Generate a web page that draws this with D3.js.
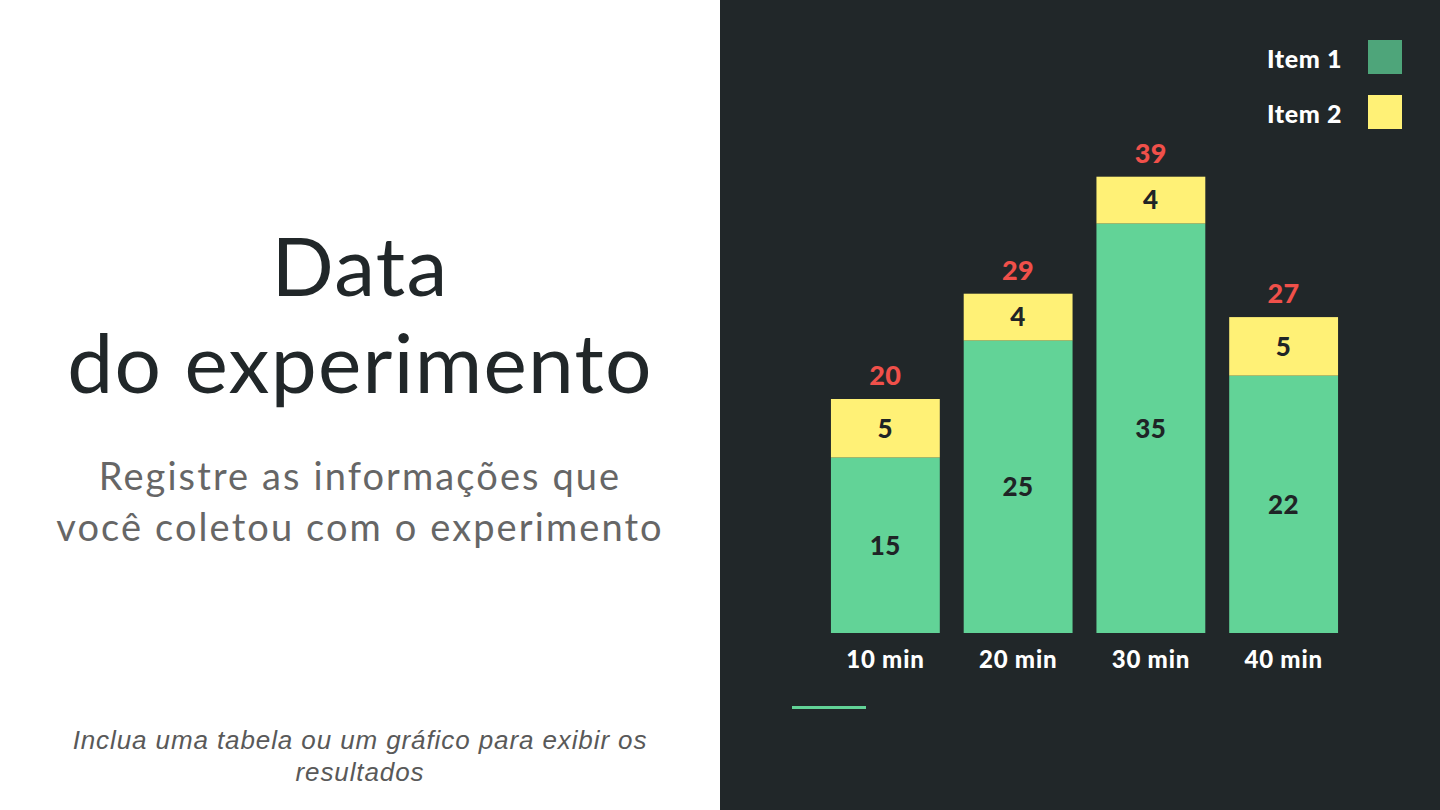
<!DOCTYPE html>
<html>
<head>
<meta charset="utf-8">
<script src="https://cdn.jsdelivr.net/npm/d3@7"></script>
<style>
  html, body { margin: 0; padding: 0; background: #fff; }
  svg { display: block; }
</style>
</head>
<body>
<script>
// Chart data
const categories = ["10 min", "20 min", "30 min", "40 min"];
const item1 = [15, 25, 35, 22];
const item2 = [5, 4, 4, 5];
const totals = [20, 29, 39, 27];
const seriesNames = ["Item 1", "Item 2"];

const width = 1440, height = 810;
const font = "Lato, 'Open Sans', sans-serif";

const svg = d3.select("body").append("svg")
    .attr("width", width)
    .attr("height", height)
    .style("font-family", font);

// Background panels
svg.append("rect").attr("x", 0).attr("y", 0).attr("width", 720).attr("height", height).attr("fill", "#ffffff");
svg.append("rect").attr("x", 720).attr("y", 0).attr("width", 720).attr("height", height).attr("fill", "#212729");

// Left side text
const left = svg.append("g").attr("text-anchor", "middle");
left.selectAll("text.title")
    .data(["Data", "do experimento"])
    .join("text")
    .attr("class", "title")
    .attr("x", 360)
    .attr("y", (d, i) => 296 + i * 97)
    .style("font-size", "82px")
    .style("letter-spacing", "1.3px")
    .style("fill", "#212729")
    .text(d => d);
left.selectAll("text.sub")
    .data(["Registre as informações que", "você coletou com o experimento"])
    .join("text")
    .attr("class", "sub")
    .attr("x", 360)
    .attr("y", (d, i) => 490 + i * 51)
    .style("font-size", "38px")
    .style("letter-spacing", "2.1px")
    .style("fill", "#666666")
    .text(d => d);
left.selectAll("text.note")
    .data(["Inclua uma tabela ou um gráfico para exibir os", "resultados"])
    .join("text")
    .attr("class", "note")
    .attr("x", 360)
    .attr("y", (d, i) => 749 + i * 32)
    .style("font-family", "'Liberation Sans', Arial, sans-serif")
    .style("font-style", "italic")
    .style("font-size", "26px")
    .style("letter-spacing", "0.9px")
    .style("fill", "#595959")
    .text(d => d);

// Scales
const x = d3.scaleBand()
    .domain(categories)
    .range([819, 1350])
    .paddingInner(0.18)
    .paddingOuter(0.09);

const y = d3.scaleLinear()
    .domain([0, 40])
    .range([633, 165]);

const color = d3.scaleOrdinal().domain(seriesNames).range(["#62d397", "#fff176"]);

const rows = categories.map((c, i) => ({ cat: c, "Item 1": item1[i], "Item 2": item2[i], total: totals[i] }));
const stacked = d3.stack().keys(seriesNames)(rows);

const chart = svg.append("g");

chart.selectAll("g.layer")
    .data(stacked)
    .join("g")
    .attr("class", "layer")
    .attr("fill", d => color(d.key))
    .selectAll("rect")
    .data(d => d)
    .join("rect")
    .attr("x", d => x(d.data.cat))
    .attr("y", d => y(d[1]))
    .attr("width", x.bandwidth())
    .attr("height", d => y(d[0]) - y(d[1]));

// Segment values
chart.selectAll("g.vals")
    .data(stacked)
    .join("g")
    .attr("class", "vals")
    .selectAll("text")
    .data(d => d.map(v => ({ v, key: d.key })))
    .join("text")
    .attr("x", d => x(d.v.data.cat) + x.bandwidth() / 2)
    .attr("y", d => (y(d.v[0]) + y(d.v[1])) / 2)
    .attr("dy", "0.36em")
    .attr("text-anchor", "middle")
    .style("font-size", "26px")
    .style("font-weight", "900")
    .style("letter-spacing", "0.5px")
    .style("fill", "#1f2426")
    .text(d => d.v.data[d.key]);

// Totals
chart.selectAll("text.total")
    .data(rows)
    .join("text")
    .attr("class", "total")
    .attr("x", d => x(d.cat) + x.bandwidth() / 2)
    .attr("y", d => y(d.total) - 14)
    .attr("text-anchor", "middle")
    .style("font-size", "27px")
    .style("font-weight", "900")
    .style("letter-spacing", "0.5px")
    .style("fill", "#f0504a")
    .text(d => d.total);

// Category axis labels
const xAxis = d3.axisBottom(x).tickSize(0).tickPadding(18);
const axisG = chart.append("g")
    .attr("transform", `translate(0,${y(0)})`)
    .call(xAxis);
axisG.select(".domain").remove();
axisG.selectAll("text")
    .style("font-family", font)
    .style("font-size", "24px")
    .style("font-weight", "900")
    .style("letter-spacing", "0.8px")
    .style("fill", "#ffffff");

// Legend
const legendColors = ["#4ea57a", "#fff176"];
const legend = svg.append("g")
    .selectAll("g")
    .data(seriesNames)
    .join("g")
    .attr("transform", (d, i) => `translate(1368,${40 + i * 55})`);
legend.append("rect")
    .attr("width", 34)
    .attr("height", 34)
    .attr("fill", (d, i) => legendColors[i]);
legend.append("text")
    .attr("x", -26)
    .attr("y", 17)
    .attr("dy", "0.42em")
    .attr("text-anchor", "end")
    .style("font-size", "25px")
    .style("font-weight", "900")
    .style("letter-spacing", "0.6px")
    .style("fill", "#ffffff")
    .text(d => d);

// Accent line
svg.append("line")
    .attr("x1", 792).attr("x2", 866)
    .attr("y1", 707.5).attr("y2", 707.5)
    .attr("stroke", "#62d397")
    .attr("stroke-width", 3);
</script>
</body>
</html>
